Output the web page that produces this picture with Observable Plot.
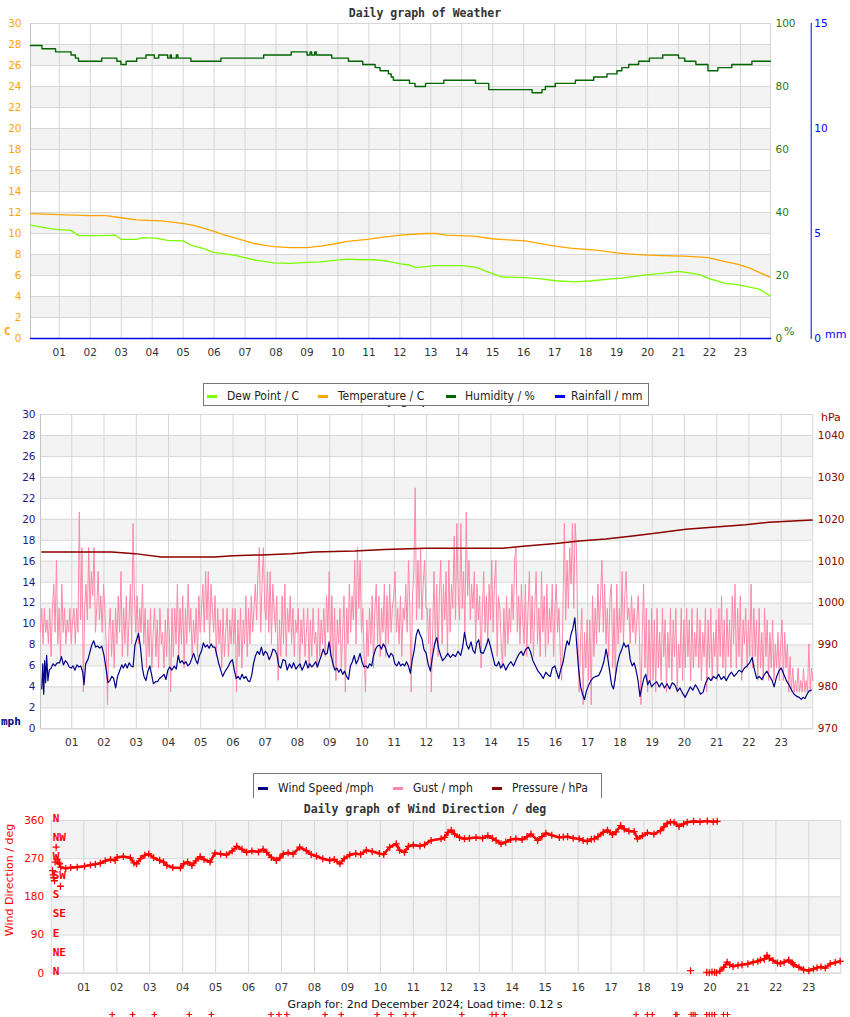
<!DOCTYPE html>
<html><head><meta charset="utf-8">
<script src="https://cdn.jsdelivr.net/npm/d3@7"></script>
<script src="https://cdn.jsdelivr.net/npm/@observablehq/plot@0.6"></script>
<style>
body{margin:0;background:#fff;}
#root{position:relative;width:850px;height:1017px;overflow:hidden;background:#fff;}
.t{position:absolute;white-space:nowrap;line-height:14px;}
.title{font-family:"DejaVu Sans Mono",monospace;font-weight:bold;font-size:11.5px;color:#333;left:0;width:850px;text-align:center;}
.leg{position:absolute;background:#fff;border:1px solid #777;box-sizing:border-box;}
.lt{position:absolute;white-space:nowrap;font-family:"DejaVu Sans Condensed","Liberation Sans Narrow","DejaVu Sans",sans-serif;font-stretch:condensed;font-size:12px;color:#222;line-height:14px;}
.sw{position:absolute;width:10px;height:3px;}
</style></head>
<body><div id="root"></div>
<script>
// ---------------- DATA ----------------
const hourTicks = [1,2,3,4,5,6,7,8,9,10,11,12,13,14,15,16,17,18,19,20,21,22,23];
const tempTicks = [0,2,4,6,8,10,12,14,16,18,20,22,24,26,28,30];
const humTicks = [0,20,40,60,80,100];
const rainTicks = [0,5,10,15];
const windTicks = [0,2,4,6,8,10,12,14,16,18,20,22,24,26,28,30];
const pressureTicks = [970,980,990,1000,1010,1020,1030,1040];
const dirTicks = [0,90,180,270,360];
const compass = [[0,"N"],[45,"NE"],[90,"E"],[135,"SE"],[180,"S"],[225,"SW"],[270,"W"],[315,"NW"],[360,"N"]];
const stripeBands = [[2,4],[6,8],[10,12],[14,16],[18,20],[22,24],[26,28]];
const dirBands = [[90,180],[270,360]];

// hour of day, %
const humidity = [[0.07,93],[0.44,92],[0.88,91],[1.38,90],[1.52,89],[1.62,88],[2.37,89],[2.86,88],[2.99,87],[3.16,88],[3.50,89],[3.80,90],[4.07,89],[4.21,90],[4.50,89],[4.58,90],[4.62,89],[4.78,90],[4.83,89],[5.25,88],[6.22,89],[7.60,90],[8.49,91],[9.00,90],[9.10,91],[9.15,90],[9.25,91],[9.30,90],[9.80,89],[10.34,88],[10.80,87],[11.20,86],[11.36,85],[11.63,84],[11.72,83],[11.79,82],[12.31,81],[12.49,80],[12.83,81],[13.42,82],[14.44,81],[14.87,79],[16.27,78],[16.59,79],[16.70,80],[17.02,81],[17.67,82],[18.26,83],[18.69,84],[19.01,85],[19.17,86],[19.39,87],[19.71,88],[20.06,89],[20.49,90],[21.00,89],[21.20,88],[21.56,87],[21.95,85],[22.27,86],[22.72,87],[23.37,88],[23.97,88]];
// hour, C
const temperature = [[0.07,11.9],[0.5,11.85],[1.0,11.8],[1.5,11.75],[2.0,11.7],[2.5,11.7],[3.0,11.5],[3.5,11.3],[4.27,11.2],[4.59,11.1],[5.02,10.95],[5.3,10.8],[5.56,10.6],[5.99,10.2],[6.3,9.9],[6.64,9.6],[7.0,9.3],[7.28,9.05],[7.6,8.9],[7.93,8.75],[8.47,8.65],[9.01,8.65],[9.44,8.8],[9.87,9.0],[10.3,9.25],[10.95,9.45],[11.48,9.65],[12.02,9.85],[12.83,10.0],[13.15,10.0],[13.5,9.85],[13.9,9.8],[14.4,9.75],[14.97,9.5],[15.5,9.4],[16.05,9.3],[16.5,9.05],[16.91,8.85],[17.5,8.6],[18.41,8.4],[19.0,8.15],[19.38,8.05],[20.0,7.95],[20.46,7.9],[21.2,7.85],[21.96,7.7],[22.4,7.4],[22.93,7.05],[23.3,6.7],[23.57,6.35],[23.95,5.85]];
const dewPoint = [[0.07,10.8],[0.44,10.6],[0.88,10.4],[1.38,10.3],[1.62,9.8],[2.37,9.8],[2.8,9.85],[3.0,9.45],[3.5,9.45],[3.7,9.6],[4.1,9.55],[4.5,9.35],[5.0,9.3],[5.25,8.9],[5.6,8.6],[5.99,8.2],[6.64,7.95],[7.28,7.5],[7.93,7.2],[8.47,7.15],[9.0,7.25],[9.44,7.3],[9.87,7.45],[10.3,7.55],[10.8,7.5],[11.2,7.5],[11.63,7.35],[12.02,7.1],[12.31,7.0],[12.5,6.75],[12.83,6.85],[13.15,6.95],[14.01,6.95],[14.45,6.8],[14.88,6.3],[15.31,5.85],[16.06,5.8],[16.49,5.7],[17.03,5.5],[17.67,5.4],[18.21,5.5],[18.75,5.65],[19.18,5.75],[19.94,6.05],[20.47,6.2],[21.01,6.4],[21.66,6.1],[21.98,5.7],[22.52,5.25],[22.95,5.1],[23.6,4.7],[23.97,4.05]];
const rainfall = [[0.07,0],[23.97,0]];

// hour, mph
const windSpeed = [[0.07,3.8],[0.10,6.2],[0.13,3.3],[0.16,6.5],[0.19,4.4],[0.22,7.0],[0.26,4.6],[0.30,5.6],[0.36,5.8],[0.42,6.2],[0.48,6.0],[0.55,6.3],[0.62,6.3],[0.68,6.9],[0.74,6.1],[0.80,6.5],[0.86,6.3],[0.92,5.9],[0.98,5.8],[1.04,6.0],[1.10,5.6],[1.16,6.1],[1.22,5.9],[1.28,6.0],[1.34,5.4],[1.38,4.2],[1.43,6.2],[1.50,6.6],[1.56,7.3],[1.62,8.0],[1.68,8.4],[1.74,7.8],[1.80,7.9],[1.87,7.7],[1.93,7.9],[2.00,7.0],[2.06,5.8],[2.12,4.4],[2.18,4.6],[2.24,5.0],[2.30,4.8],[2.36,3.9],[2.42,5.0],[2.48,5.5],[2.55,6.1],[2.60,5.8],[2.66,6.2],[2.72,5.8],[2.78,6.3],[2.84,6.0],[2.90,5.9],[2.96,8.0],[3.02,8.6],[3.07,9.1],[3.13,7.8],[3.19,5.8],[3.24,5.0],[3.30,4.6],[3.36,5.5],[3.42,6.0],[3.48,5.1],[3.53,4.3],[3.60,4.5],[3.66,4.5],[3.72,4.8],[3.80,5.0],[3.86,5.2],[3.92,4.7],[3.98,5.6],[4.04,5.9],[4.10,5.6],[4.18,6.0],[4.24,5.7],[4.30,7.0],[4.36,6.3],[4.42,6.5],[4.48,6.2],[4.54,6.4],[4.60,6.0],[4.66,6.2],[4.71,6.6],[4.78,7.2],[4.84,6.6],[4.90,6.2],[4.96,7.0],[5.02,7.4],[5.08,8.2],[5.14,7.8],[5.20,8.0],[5.26,7.7],[5.32,8.1],[5.38,7.8],[5.44,7.8],[5.50,7.0],[5.56,6.2],[5.62,5.6],[5.68,5.0],[5.74,5.4],[5.80,5.7],[5.86,6.0],[5.92,6.4],[5.98,6.6],[6.04,5.6],[6.10,4.8],[6.16,5.0],[6.22,4.7],[6.28,5.2],[6.34,4.8],[6.40,5.0],[6.46,4.6],[6.52,4.5],[6.58,5.1],[6.64,6.3],[6.70,7.0],[6.76,7.4],[6.82,7.1],[6.88,7.8],[6.94,7.0],[7.00,7.4],[7.06,7.2],[7.12,6.6],[7.18,7.0],[7.24,7.6],[7.30,7.5],[7.36,7.1],[7.42,6.0],[7.48,5.8],[7.55,6.6],[7.62,6.5],[7.68,5.6],[7.75,6.2],[7.82,5.8],[7.88,6.3],[7.95,5.7],[8.02,6.0],[8.08,6.2],[8.14,5.6],[8.20,6.0],[8.26,6.5],[8.32,5.8],[8.38,6.2],[8.44,5.9],[8.50,6.1],[8.56,6.4],[8.62,5.9],[8.68,6.5],[8.74,7.0],[8.80,7.6],[8.86,7.1],[8.92,7.2],[8.98,8.3],[9.04,7.0],[9.10,6.2],[9.16,5.6],[9.22,5.8],[9.28,5.4],[9.34,5.7],[9.40,5.2],[9.46,5.5],[9.52,5.0],[9.58,4.7],[9.64,6.0],[9.70,6.4],[9.76,7.0],[9.82,6.2],[9.88,6.6],[9.94,7.2],[10.00,6.4],[10.06,5.9],[10.12,6.0],[10.18,5.8],[10.24,6.2],[10.30,6.0],[10.36,7.0],[10.42,7.6],[10.48,7.9],[10.54,8.0],[10.60,7.6],[10.66,8.1],[10.72,7.8],[10.78,7.2],[10.84,6.8],[10.90,7.2],[10.96,7.0],[11.02,6.2],[11.08,6.0],[11.14,6.4],[11.20,6.0],[11.26,6.2],[11.32,6.0],[11.38,6.4],[11.44,6.0],[11.50,5.3],[11.56,6.6],[11.62,7.5],[11.68,8.9],[11.74,9.5],[11.80,9.0],[11.86,8.6],[11.92,7.6],[11.99,7.2],[12.05,6.2],[12.12,5.5],[12.18,6.8],[12.26,8.2],[12.32,8.7],[12.38,7.6],[12.44,7.0],[12.50,6.5],[12.58,6.8],[12.66,7.2],[12.74,6.8],[12.82,7.1],[12.90,6.9],[12.98,7.4],[13.06,7.0],[13.12,7.8],[13.18,9.2],[13.25,8.0],[13.31,7.6],[13.38,8.3],[13.44,7.5],[13.50,7.2],[13.56,8.2],[13.62,8.5],[13.68,7.3],[13.76,7.2],[13.84,7.8],[13.92,8.6],[13.98,7.9],[14.05,7.0],[14.12,6.1],[14.18,6.0],[14.24,6.4],[14.30,5.8],[14.38,6.2],[14.46,5.6],[14.54,6.1],[14.62,6.4],[14.70,6.0],[14.78,6.6],[14.86,7.1],[14.94,7.4],[15.00,7.0],[15.08,7.6],[15.16,7.8],[15.22,7.4],[15.30,6.5],[15.38,6.0],[15.46,5.5],[15.54,5.2],[15.62,4.8],[15.70,5.4],[15.78,5.1],[15.84,5.0],[15.90,5.8],[15.98,6.0],[16.04,5.4],[16.10,4.8],[16.16,5.6],[16.24,6.4],[16.30,7.5],[16.36,8.4],[16.42,8.0],[16.48,9.0],[16.54,9.6],[16.60,10.6],[16.66,8.0],[16.72,5.6],[16.78,4.0],[16.84,3.3],[16.90,2.8],[16.96,3.6],[17.02,4.1],[17.10,4.6],[17.18,4.9],[17.26,5.0],[17.34,5.1],[17.42,5.6],[17.50,6.4],[17.57,7.6],[17.62,6.8],[17.68,5.5],[17.74,4.2],[17.80,3.8],[17.86,5.0],[17.92,6.2],[17.98,7.0],[18.06,7.6],[18.12,8.2],[18.18,7.8],[18.26,8.0],[18.32,6.6],[18.38,6.0],[18.44,6.3],[18.50,5.6],[18.56,4.6],[18.62,3.1],[18.68,4.0],[18.74,4.8],[18.80,5.2],[18.86,4.2],[18.92,4.6],[18.98,4.0],[19.06,4.3],[19.14,4.5],[19.22,4.0],[19.30,4.4],[19.38,3.9],[19.46,4.3],[19.54,3.8],[19.62,4.4],[19.70,4.2],[19.78,3.6],[19.86,3.9],[19.94,3.4],[20.02,3.0],[20.10,3.5],[20.18,4.0],[20.26,3.7],[20.34,4.2],[20.42,3.8],[20.50,3.3],[20.58,3.5],[20.66,4.4],[20.74,4.9],[20.82,4.6],[20.90,5.0],[20.98,4.8],[21.06,5.2],[21.14,4.7],[21.22,5.0],[21.30,4.6],[21.38,5.1],[21.46,5.4],[21.54,5.0],[21.62,5.3],[21.70,5.6],[21.78,5.4],[21.86,5.8],[21.94,6.0],[22.02,6.3],[22.10,6.8],[22.16,5.8],[22.24,4.8],[22.32,5.0],[22.40,4.7],[22.48,5.2],[22.56,5.5],[22.64,5.0],[22.72,4.6],[22.78,4.0],[22.86,5.0],[22.94,5.6],[23.00,5.8],[23.08,5.2],[23.16,4.6],[23.24,4.2],[23.32,3.7],[23.40,3.3],[23.48,3.1],[23.56,3.0],[23.62,2.8],[23.68,3.0],[23.74,2.9],[23.80,3.3],[23.86,3.6],[23.94,3.7]];

// gust readings (mph), 24 readings per hour (every 2.5 min), hours 00..23
const gustByHour = [
 [9.2,11.5,8.1,11.5,9.2,10.4,8.1,11.5,6.9,11.5,13.8,9.2,16.1,8.1,11.5,6.9,13.8,9.2,11.5,8.1,10.4,9.2,11.5,8.1],
 [10.4,11.5,8.1,11.5,9.2,20.7,10.4,17.3,3.5,11.5,13.8,10.4,17.3,11.5,15.0,12.7,17.3,9.2,11.5,15.0,10.4,12.7,9.2,13.8],
 [11.5,8.1,2.3,9.2,11.5,6.9,10.4,5.8,11.5,8.1,12.7,9.2,15.0,6.9,11.5,8.1,12.7,6.9,10.4,13.8,8.1,19.6,12.7,9.2],
 [12.7,8.1,11.5,9.2,13.8,8.1,11.5,5.8,10.4,6.9,11.5,5.8,9.2,11.5,6.9,10.4,5.8,11.5,8.1,9.2,5.8,10.4,6.9,11.5],
 [9.2,3.5,11.5,6.9,11.5,8.1,13.8,6.9,11.5,8.1,12.7,5.8,11.5,8.1,13.8,9.2,11.5,6.9,10.4,8.1,11.5,6.9,12.7,9.2],
 [11.5,13.8,9.2,15.0,10.4,15.0,8.1,13.8,11.5,9.2,12.7,6.9,11.5,8.1,10.4,5.8,11.5,6.9,9.2,11.5,6.9,10.4,8.1,11.5],
 [8.1,11.5,3.5,10.4,6.9,11.5,5.8,10.4,8.1,12.7,6.9,11.5,8.1,12.7,9.2,11.5,13.8,10.4,15.0,17.3,9.2,13.8,17.3,11.5],
 [10.4,15.0,9.2,15.0,8.1,13.8,11.5,9.2,12.7,4.6,10.4,6.9,12.7,8.1,13.8,6.9,11.5,9.2,12.7,8.1,11.5,6.9,10.4,9.2],
 [11.5,5.8,10.4,8.1,11.5,6.9,9.2,11.5,5.8,10.4,6.9,11.5,8.1,9.2,5.8,11.5,6.9,10.4,8.1,11.5,6.9,12.7,9.2,15.0],
 [6.9,12.7,5.8,11.5,4.6,10.4,8.1,11.5,5.8,9.2,12.7,3.5,11.5,8.1,13.8,9.2,12.7,10.4,16.1,8.1,17.3,11.5,16.1,9.2],
 [11.5,6.9,3.5,10.4,6.9,11.5,8.1,12.7,5.8,11.5,13.8,8.1,12.7,6.9,11.5,9.2,13.8,6.9,12.7,8.1,13.8,9.2,11.5,12.7],
 [15.0,9.2,11.5,8.1,12.7,6.9,11.5,10.4,13.8,9.2,16.1,11.5,3.5,12.7,15.0,23.0,10.4,16.1,11.5,17.3,10.4,13.8,16.1,11.5],
 [11.5,8.1,11.5,3.5,9.2,15.0,8.1,13.8,6.9,12.7,16.1,8.1,13.8,10.4,15.0,6.9,16.1,9.2,13.8,11.5,18.4,10.4,19.6,12.7],
 [10.4,19.6,11.5,15.0,9.2,20.7,12.7,16.1,10.4,13.8,11.5,15.0,8.1,13.8,10.4,12.7,5.8,11.5,15.0,9.2,12.7,8.1,13.8,10.4],
 [16.1,9.2,13.8,16.1,6.9,12.7,11.5,8.1,5.8,11.5,6.9,12.7,8.1,11.5,9.2,13.8,10.4,16.1,17.3,9.2,12.7,8.1,13.8,10.4],
 [8.1,13.8,6.9,11.5,15.0,8.1,12.7,6.9,11.5,15.0,8.1,11.5,6.9,15.0,9.2,12.7,6.9,13.8,8.1,11.5,9.2,13.8,6.9,11.5],
 [13.8,9.2,11.5,6.9,4.6,11.5,19.6,10.4,16.1,11.5,17.3,13.8,19.6,11.5,19.6,17.3,9.2,3.5,8.1,11.5,2.3,9.2,5.8,10.4],
 [4.6,10.4,2.3,12.7,6.9,11.5,8.1,13.8,9.2,12.7,16.1,9.2,13.8,8.1,11.5,6.9,12.7,13.8,5.8,11.5,4.6,13.8,8.1,11.5],
 [9.2,15.0,8.1,12.7,15.0,10.4,11.5,8.1,12.7,9.2,11.5,8.1,10.4,12.7,8.1,2.3,9.2,13.8,5.8,11.5,3.5,10.4,4.6,11.5],
 [4.6,10.4,3.5,11.5,5.8,9.2,4.6,11.5,6.9,10.4,3.5,9.2,5.8,11.5,4.6,10.4,6.9,11.5,3.5,8.1,5.8,11.5,4.6,10.4],
 [5.8,11.5,6.9,10.4,4.6,11.5,5.8,9.2,6.9,11.5,5.8,10.4,4.6,9.2,6.9,11.5,3.5,10.4,5.8,11.5,4.6,9.2,6.9,10.4],
 [4.6,11.5,6.9,12.7,5.8,10.4,4.6,11.5,6.9,10.4,5.8,12.7,8.1,13.8,5.8,11.5,6.9,12.7,4.6,10.4,8.1,11.5,5.8,10.4],
 [6.9,13.8,5.8,11.5,6.9,10.4,4.6,11.5,5.8,9.2,4.6,11.5,6.9,10.4,4.6,9.2,5.8,10.4,4.6,8.1,5.8,9.2,4.6,8.1],
 [10.4,4.6,9.2,5.8,8.1,3.5,6.9,3.5,5.8,3.5,4.6,3.5,5.8,3.5,4.6,3.5,5.8,3.5,4.6,3.5,8.1,3.5,5.8,4.6]
];

// hour, hPa
const pressure = [[0.07,1012.2],[2.24,1012.2],[2.96,1011.8],[3.78,1011.0],[5.43,1011.0],[6.0,1011.3],[6.88,1011.5],[7.81,1011.8],[8.5,1012.2],[9.77,1012.4],[10.7,1012.8],[11.99,1013.1],[14.36,1013.1],[15.08,1013.6],[16.01,1014.2],[16.74,1014.8],[17.56,1015.3],[18.39,1016.0],[19.21,1016.8],[20.04,1017.6],[20.86,1018.1],[21.89,1018.7],[22.62,1019.3],[23.96,1019.8]];

// hour, degrees
const dirScatter = [[0.05,242],[0.07,232],[0.09,225],[0.11,218],[0.13,262],[0.16,297],[0.19,268],[0.22,262],[0.26,258],[0.29,205]];
const dirMain = [[0.30,250],[0.45,247],[0.6,249],[0.8,250],[1.02,252],[1.2,255],[1.35,257],[1.5,259],[1.65,265],[1.81,268],[1.95,266],[2.01,273],[2.2,275],[2.41,272],[2.52,260],[2.6,258],[2.72,270],[2.85,278],[2.97,281],[3.12,272],[3.3,266],[3.42,262],[3.52,254],[3.7,249],[3.93,248],[4.03,258],[4.15,262],[4.28,254],[4.4,265],[4.53,275],[4.65,268],[4.83,262],[4.98,283],[5.15,281],[5.33,279],[5.5,288],[5.64,299],[5.8,292],[5.94,285],[6.1,288],[6.3,286],[6.44,292],[6.55,285],[6.69,273],[6.84,266],[6.95,272],[7.05,281],[7.2,284],[7.35,281],[7.55,297],[7.75,289],[7.9,280],[8.06,276],[8.25,270],[8.46,266],[8.6,268],[8.77,258],[8.9,270],[9.07,279],[9.25,282],[9.4,280],[9.57,290],[9.75,287],[9.97,282],[10.1,280],[10.28,297],[10.48,305],[10.58,290],[10.73,285],[10.85,299],[11.0,302],[11.2,300],[11.34,303],[11.54,313],[11.84,317],[11.95,320],[12.05,332],[12.15,337],[12.25,328],[12.4,320],[12.55,317],[12.7,318],[12.9,320],[13.1,318],[13.26,324],[13.4,318],[13.51,313],[13.66,305],[13.8,309],[13.95,315],[14.11,317],[14.3,315],[14.45,322],[14.57,328],[14.77,313],[14.9,322],[15.02,330],[15.2,325],[15.43,320],[15.55,321],[15.68,322],[15.85,318],[16.03,317],[16.15,313],[16.28,311],[16.4,316],[16.49,317],[16.6,322],[16.76,332],[16.89,337],[17.04,327],[17.15,333],[17.29,348],[17.4,340],[17.54,335],[17.7,334],[17.8,317],[17.95,324],[18.1,331],[18.3,328],[18.5,336],[18.6,345],[18.7,353],[18.8,356],[18.91,356],[19.06,346],[19.2,352],[19.31,356],[19.5,358],[19.7,357],[19.92,359],[20.1,357],[20.22,358]];
const dirWrapScatter = [[19.41,6],[19.9,2],[19.98,1],[20.06,3],[20.14,2],[20.2,1]];
const dirWrap = [[20.3,5],[20.42,14],[20.52,26],[20.6,20],[20.7,16],[20.85,19],[20.97,20],[21.15,22],[21.31,26],[21.45,28],[21.53,31],[21.65,33],[21.73,42],[21.8,35],[21.91,30],[22.05,24],[22.14,23],[22.25,26],[22.39,31],[22.5,24],[22.54,20],[22.7,14],[22.84,8],[23.0,6],[23.14,10],[23.25,13],[23.37,15],[23.5,12],[23.65,22],[23.8,25],[23.95,28]];
const strayHours = [1.86,2.48,3.14,4.20,4.87,6.68,6.92,7.16,8.32,8.81,9.90,10.32,10.77,11.01,12.47,13.39,13.51,13.76,17.76,18.10,18.25,18.96,19.0,19.43,19.49,19.55,19.9,19.98,20.06,20.14,20.41,20.53];

// ---------------- LAYOUT ----------------
const root = document.getElementById("root");
function put(node, top, left = 0) {
  node.style.position = "absolute"; node.style.top = top + "px"; node.style.left = left + "px";
  root.appendChild(node); return node;
}
function txt(text, cls, css, parent = root) {
  const d = document.createElement("div"); d.className = cls; d.textContent = text;
  d.style.cssText = css; parent.appendChild(d); return d;
}
const FONT = "'DejaVu Sans', sans-serif";
const X = d => d[0], Y = d => d[1];
const pad2 = d => String(d).padStart(2, "0");
const plain = d => String(d);
const GRID = "#d6d6d6", BAND = "#f3f3f3";

function base(P, ydom, extra = {}) {
  return Object.assign({
    width: 850, height: P.h, marginTop: P.mt, marginBottom: P.mb, marginLeft: P.ml, marginRight: P.mr,
    x: {domain: P.x, axis: null}, y: {domain: ydom, axis: null},
    style: {background: "transparent", fontFamily: FONT, fontSize: "10.5px", overflow: "visible"}
  }, extra);
}

// ---------- Panel 1: weather ----------
const P1 = {top: 0, h: 370, mt: 23, mb: 32, ml: 30, mr: 80, x: [0.07, 23.97]};
put(Plot.plot(base(P1, [0, 30], {marks: [
  Plot.rect(stripeBands, {y1: X, y2: Y, fill: BAND}),
  Plot.ruleY(tempTicks, {stroke: GRID}),
  Plot.ruleX(hourTicks, {stroke: GRID}),
  Plot.frame({stroke: GRID}),
  Plot.ruleX([P1.x[0]], {stroke: "#c4c4c4"}),
  Plot.axisY(tempTicks, {anchor: "left", tickSize: 0, tickPadding: 9, color: "#ffa500", tickFormat: plain, label: null}),
  Plot.axisX(hourTicks, {anchor: "bottom", tickSize: 0, tickPadding: 10, color: "#333", tickFormat: pad2, label: null}),
  Plot.line(dewPoint, {x: X, y: Y, stroke: "#7cfc00", strokeWidth: 1.3}),
  Plot.line(temperature, {x: X, y: Y, stroke: "#ffa500", strokeWidth: 1.3})
]})), P1.top);
put(Plot.plot(base(P1, [0, 100], {marks: [
  Plot.line(humidity, {x: X, y: Y, curve: "step-after", stroke: "#006400", strokeWidth: 1.4}),
  Plot.axisY(humTicks, {anchor: "right", tickSize: 0, tickPadding: 5, color: "#1e7b1e", tickFormat: plain, label: null})
]})), P1.top);
put(Plot.plot(base(Object.assign({}, P1, {mr: 39.3}), [0, 15], {
  x: {domain: P1.x, range: [30, 770], axis: null},
  marks: [
    Plot.line(rainfall, {x: X, y: Y, stroke: "#0000ff", strokeWidth: 1.6}),
    Plot.frame({anchor: "right", stroke: "#0000ff"}),
    Plot.axisY(rainTicks, {anchor: "right", tickSize: 0, tickPadding: 3, color: "#0000ff", tickFormat: plain, label: null})
  ]})), P1.top);

txt("Daily graph of Weather", "t title", "top:6px;");
txt("C", "t", "left:4px;top:325px;font:bold 11px 'DejaVu Sans Mono',monospace;color:#ffa500;");
txt("%", "t", "left:784px;top:325px;font:11px " + FONT + ";color:#1e7b1e;");
txt("mm", "t", "left:825px;top:328px;font:11px " + FONT + ";color:#0000ff;");

// ---------- Panel 2: wind / pressure ----------
const P2 = {top: 360, h: 400, mt: 54, mb: 31.7, ml: 40, mr: 37.7, x: [0.03, 23.98]};
const gust = gustByHour.flatMap((vals, hr) => vals.map((v, j) => ({h: hr + (j + 0.6) / 24, v})));

// chart-2 title: lies under the legend box (as in the original), only its descenders peek out
txt("Daily graph of Wind", "t title", "top:393px;");

put(Plot.plot(base(P2, [0, 30], {marks: [
  Plot.rect(stripeBands, {y1: X, y2: Y, fill: BAND}),
  Plot.ruleY(windTicks, {stroke: GRID}),
  Plot.ruleX(hourTicks, {stroke: GRID}),
  Plot.frame({stroke: GRID}),
  Plot.ruleX([P2.x[0]], {stroke: "#c4c4c4"}),
  Plot.axisY(windTicks, {anchor: "left", tickSize: 0, tickPadding: 5, color: "#1a1a8a", tickFormat: plain, label: null}),
  Plot.axisX(hourTicks, {anchor: "bottom", tickSize: 0, tickPadding: 10, color: "#333", tickFormat: pad2, label: null}),
  Plot.line(gust, {x: "h", y: "v", stroke: "#ff88aa", strokeWidth: 1}),
  Plot.line(windSpeed, {x: X, y: Y, stroke: "#000088", strokeWidth: 1.2})
]})), P2.top);
put(Plot.plot(base(P2, [970, 1045], {marks: [
  Plot.line(pressure, {x: X, y: Y, stroke: "#8b0000", strokeWidth: 1.5}),
  Plot.axisY(pressureTicks, {anchor: "right", tickSize: 0, tickPadding: 5, color: "#8b0000", tickFormat: plain, label: null})
]})), P2.top);
txt("mph", "t", "left:1px;top:715px;font:bold 11px 'DejaVu Sans Mono',monospace;color:#000080;");
txt("hPa", "t", "left:821px;top:411px;font:11px " + FONT + ";color:#8b0000;");

// ---------- Panel 3: wind direction ----------
const P3 = {top: 800, h: 200, mt: 20, mb: 27.3, ml: 50.7, mr: 9.7, x: [0.01, 23.97]};
txt("Daily graph of Wind Direction / deg", "t title", "top:802px;");
put(Plot.plot(base(P3, [0, 360], {marks: [
  Plot.rect(dirBands, {y1: X, y2: Y, fill: BAND}),
  Plot.ruleY(dirTicks, {stroke: GRID}),
  Plot.ruleX(hourTicks, {stroke: GRID}),
  Plot.frame({stroke: GRID}),
  Plot.axisY(dirTicks, {anchor: "left", tickSize: 0, tickPadding: 7, color: "#ff0000", tickFormat: plain, label: null}),
  Plot.axisX(hourTicks, {anchor: "bottom", tickSize: 0, tickPadding: 10, color: "#333", tickFormat: pad2, label: null}),
  Plot.text(compass, {y: X, text: Y, frameAnchor: "left", textAnchor: "start", dx: 1.5, dy: -2, fill: "#ff0000", fontWeight: "bold", fontFamily: "'DejaVu Sans Mono', monospace", fontSize: 11}),
  Plot.line(dirMain, {x: X, y: Y, stroke: "#ff0000", strokeWidth: 2.6}),
  Plot.line(dirWrap, {x: X, y: Y, stroke: "#ff0000", strokeWidth: 2.6}),
  Plot.dot(dirMain.concat(dirWrap, dirScatter, dirWrapScatter), {x: X, y: Y, symbol: "plus", r: 2.4, stroke: "#ff0000", strokeWidth: 1.3})
]})), P3.top);
txt("Wind Direction / deg", "t", "left:9px;top:880px;font:11px " + FONT + ";color:#ff0000;transform:translate(-50%,-50%) rotate(-90deg);");

// ---------- footer ----------
txt("Graph for: 2nd December 2024; Load time: 0.12 s", "t", "left:0;width:850px;text-align:center;top:998px;font:11px " + FONT + ";color:#111;");
put(Plot.plot(base({h: 20, mt: 0, mb: 0, ml: P3.ml, mr: P3.mr, x: P3.x}, [0, 1], {marks: [
  Plot.dot(strayHours, {x: d => d, frameAnchor: "middle", symbol: "plus", r: 2, stroke: "#ff0000", strokeWidth: 1.2})
]})), 1004);

// ---------- legends ----------
function legend(box, items) {
  const b = document.createElement("div"); b.className = "leg";
  b.style.cssText = `left:${box.left}px;top:${box.top}px;width:${box.w}px;height:${box.h}px;` + (box.open ? "border-bottom:none;" : "");
  root.appendChild(b);
  items.forEach(it => {
    const s = document.createElement("div"); s.className = "sw";
    s.style.cssText = `left:${it.sw}px;top:${box.cy - 1}px;background:${it.color};`; root.appendChild(s);
    const t = document.createElement("div"); t.className = "lt"; t.textContent = it.label;
    t.style.cssText = `left:${it.tx}px;top:${box.cy - 7}px;`; root.appendChild(t);
  });
}
legend({left: 203, top: 383, w: 446, h: 23, cy: 396}, [
  {label: "Dew Point / C", color: "#7cfc00", sw: 207, tx: 227},
  {label: "Temperature / C", color: "#ffa500", sw: 318, tx: 338},
  {label: "Humidity / %", color: "#006400", sw: 446, tx: 465},
  {label: "Rainfall / mm", color: "#0000ff", sw: 555, tx: 571}
]);
legend({left: 253, top: 773, w: 349, h: 25, cy: 788, open: true}, [
  {label: "Wind Speed /mph", color: "#000088", sw: 258, tx: 278},
  {label: "Gust / mph", color: "#ff88aa", sw: 393, tx: 413},
  {label: "Pressure / hPa", color: "#8b0000", sw: 492, tx: 512}
]);
</script>
</body></html>
